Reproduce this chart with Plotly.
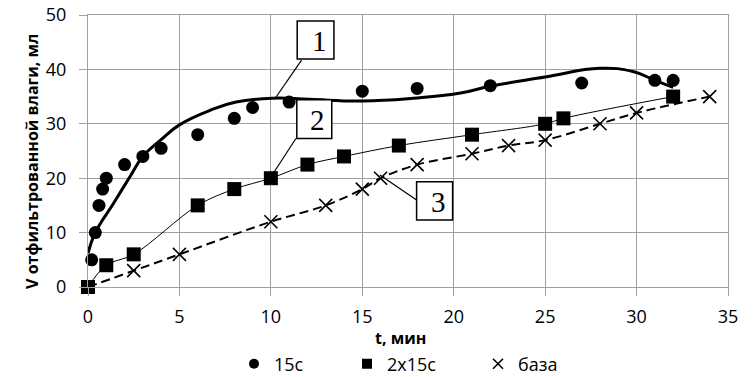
import plotly.graph_objects as go

# ---- data ----
t_15c = [0.2, 0.4, 0.6, 0.8, 1, 2, 3, 4, 6, 8, 9, 11, 15, 18, 22, 27, 31, 32]
v_15c = [5, 10, 15, 18, 20, 22.5, 24, 25.5, 28, 31, 33, 34, 36, 36.5, 37, 37.5, 38, 38]

t_trend = [0, 0.4, 1.4, 2.3, 3, 4, 5, 6.7, 8.1, 10.1, 12.1, 15, 17.8, 20.3, 22, 25, 28, 29.8, 31, 32]
v_trend = [6.2, 10, 15.4, 20.3, 24, 27.1, 29.8, 32.5, 34, 34.7, 34.5, 34.2, 34.7, 35.6, 36.9, 38.6, 40.2, 39.6, 38, 36.7]

t_2x15c = [0, 1, 2.5, 6, 8, 10, 12, 14, 17, 21, 25, 26, 32]
v_2x15c = [0, 4, 6, 15, 18, 20, 22.5, 24, 26, 28, 30, 31, 35]

t_base = [0, 2.5, 5, 10, 13, 15, 16, 18, 21, 23, 25, 28, 30, 34]
v_base = [0, 3, 6, 12, 15, 18, 20, 22.5, 24.5, 26, 27, 30, 32, 35]

names = ["15с", "2х15с", "база"]
x_ticks = [0, 5, 10, 15, 20, 25, 30, 35]
y_ticks = [0, 10, 20, 30, 40, 50]
x_title = "t, мин"
y_title = "V отфильтрованной влаги, мл"

# callout boxes: (label, box x0, x1, y0, y1, leader from (x,y) to (x,y)) in data units
callouts = [
    ("1", 11.44, 13.45, 41.9, 48.9, (11.68, 41.7), (10.22, 34.6)),
    ("2", 11.42, 13.33, 27.3, 34.4, (11.37, 27.3), (10.17, 21.1)),
    ("3", 17.97, 19.94, 12.3, 19.35, (17.97, 16.0), (15.96, 20.6)),
]

BLACK = "#000000"
GRID = "#a0a0a0"

fig = go.Figure()

# lines (not in legend)
fig.add_trace(go.Scatter(x=t_trend, y=v_trend, mode="lines", showlegend=False,
                         line=dict(color=BLACK, width=3, shape="spline", smoothing=1.3, simplify=False),
                         hoverinfo="skip"))
fig.add_trace(go.Scatter(x=t_2x15c, y=v_2x15c, mode="lines", showlegend=False,
                         line=dict(color=BLACK, width=1, shape="spline", smoothing=1.0, simplify=False),
                         hoverinfo="skip"))
fig.add_trace(go.Scatter(x=t_base, y=v_base, mode="lines", showlegend=False,
                         line=dict(color=BLACK, width=2, dash="9px,5px", shape="spline",
                                   smoothing=1.0, simplify=False),
                         hoverinfo="skip"))

# data markers
marker_styles = [
    dict(symbol="circle", size=13, color=BLACK),
    dict(symbol="square", size=14, color=BLACK),
    dict(symbol="x-thin", size=13, color=BLACK, line=dict(color=BLACK, width=1.6)),
]
legend_styles = [
    dict(symbol="circle", size=10, color=BLACK),
    dict(symbol="square", size=10, color=BLACK),
    dict(symbol="x-thin", size=10, color=BLACK, line=dict(color=BLACK, width=1.6)),
]
series = [(t_15c, v_15c), (t_2x15c, v_2x15c), (t_base, v_base)]
legend_ids = ["legend", "legend2", "legend3"]

for (xs, ys), nm, ms in zip(series, names, marker_styles):
    fig.add_trace(go.Scatter(x=xs, y=ys, mode="markers", name=nm, showlegend=False,
                             cliponaxis=False, marker=ms))
# legend entries (smaller symbols, as in the reference)
for nm, ms, lid in zip(names, legend_styles, legend_ids):
    fig.add_trace(go.Scatter(x=[None], y=[None], mode="markers", name=nm, legend=lid,
                             marker=ms, showlegend=True))

shapes = []
annotations = []
for lab, x0, x1, y0, y1, (lx0, ly0), (lx1, ly1) in callouts:
    shapes.append(dict(type="line", xref="x", yref="y", x0=lx0, y0=ly0, x1=lx1, y1=ly1,
                       line=dict(color=BLACK, width=1.2), layer="above"))
    shapes.append(dict(type="rect", xref="x", yref="y", x0=x0, x1=x1, y0=y0, y1=y1,
                       line=dict(color=BLACK, width=1.5), fillcolor="white", layer="above"))
    annotations.append(dict(x=x1 - 0.27, y=y0 + 0.05, xref="x", yref="y", text=lab,
                            showarrow=False, xanchor="right", yanchor="bottom",
                            font=dict(family="Liberation Serif", size=29, color=BLACK)))

annotations.append(dict(x=0.489, y=-0.1875, xref="paper", yref="paper", text="<b>%s</b>" % x_title,
                        showarrow=False, xanchor="center", yanchor="middle",
                        font=dict(family="Open Sans", size=16, color=BLACK)))
annotations.append(dict(x=-0.0875, y=0.46, xref="paper", yref="paper", text="<b>%s</b>" % y_title,
                        showarrow=False, xanchor="center", yanchor="middle", textangle=-90,
                        font=dict(family="Open Sans", size=16, color=BLACK)))

leg_common = dict(orientation="h", xref="container", yref="container", y=1 - 364 / 377,
                  xanchor="left", yanchor="middle", font=dict(size=18, color=BLACK),
                  itemsizing="trace", bgcolor="rgba(0,0,0,0)")

fig.update_layout(
    width=756, height=377,
    margin=dict(l=88, r=28, t=15, b=90, autoexpand=False),
    paper_bgcolor="white", plot_bgcolor="white",
    font=dict(family="Open Sans", size=18, color=BLACK),
    shapes=shapes, annotations=annotations,
    legend=dict(x=234 / 756, **leg_common),
    legend2=dict(x=347 / 756, **leg_common),
    legend3=dict(x=478 / 756, **leg_common),
)
fig.update_xaxes(range=[0, 35], tickvals=x_ticks, showgrid=True, gridcolor=GRID, gridwidth=1,
                 zeroline=False, showline=True, linecolor=GRID, linewidth=1, mirror=True,
                 ticks="outside", ticklen=8, tickcolor=GRID, ticklabelstandoff=5,
                 tickfont=dict(size=18))
fig.update_yaxes(range=[0, 50], tickvals=y_ticks, showgrid=True, gridcolor=GRID, gridwidth=1,
                 zeroline=False, showline=True, linecolor=GRID, linewidth=1, mirror=True,
                 ticks="outside", ticklen=8, tickcolor=GRID, ticklabelstandoff=9,
                 tickfont=dict(size=18))

fig.write_html("out.html")
